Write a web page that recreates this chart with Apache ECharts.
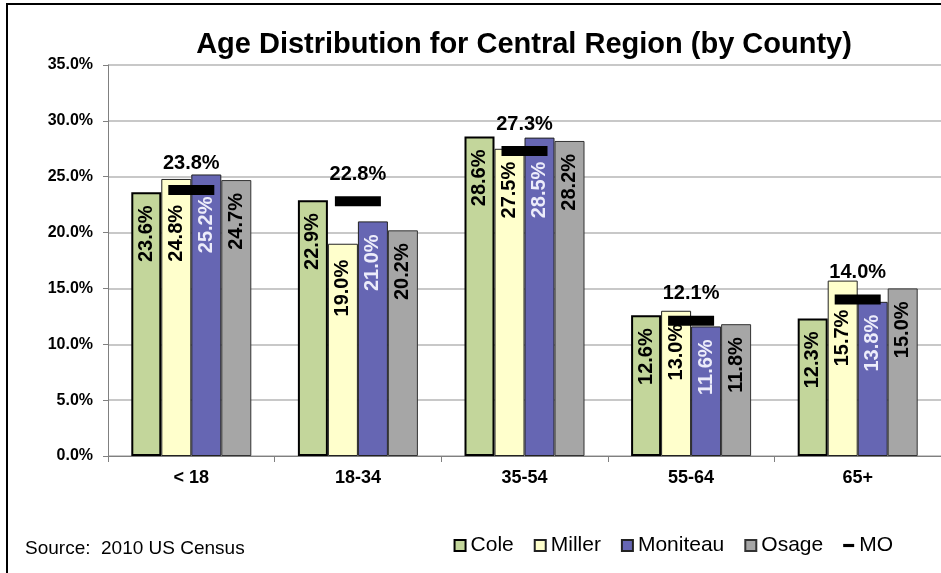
<!DOCTYPE html>
<html lang="en">
<head>
    <meta charset="UTF-8">
    <title>Age Distribution</title>
    <script src="https://cdn.jsdelivr.net/npm/echarts@6.0.0/dist/echarts.min.js"></script>
    <style>
        body { margin: 0; background: #fff; }
    </style>
</head>
<body>
    <div id="main" style="width: 941px;height:573px;"></div>
    <script type="text/javascript">
        // Data (percent of population)
        const ageGroups = ['< 18', '18-34', '35-54', '55-64', '65+'];
        const cole = [23.6, 22.9, 28.6, 12.6, 12.3];
        const miller = [24.8, 19.0, 27.5, 13.0, 15.7];
        const moniteau = [25.2, 21.0, 28.5, 11.6, 13.8];
        const osage = [24.7, 20.2, 28.2, 11.8, 15.0];
        const mo = [23.8, 22.8, 27.3, 12.1, 14.0];

        // a few labels were pushed further down the bar in the original
        const labelDrop = {
            Miller: [26, 16, 13, 13, 29],
            Moniteau: [22, 13, 24, 13, 13]
        };

        const font = "'Liberation Sans', Arial, sans-serif";
        const pct = v => v.toFixed(1) + '%';

        let myChart = echarts.init(document.getElementById('main'));

        // rotated labels sitting just under the bar top
        function barLabel(color) {
            return {
                show: true,
                position: 'insideTop',
                rotate: 90,
                align: 'right',
                verticalAlign: 'middle',
                distance: 13,
                color: color,
                fontFamily: font,
                fontWeight: 'bold',
                fontSize: 20,
                formatter: p => pct(p.value)
            };
        }

        function barSeries(name, data, fill, border, bw, labelColor) {
            let drops = labelDrop[name];
            return {
                name: name,
                type: 'bar',
                data: drops ? data.map((v, i) => ({ value: v, label: { distance: drops[i] } })) : data,
                barWidth: 30,
                barGap: '0%',
                itemStyle: { color: fill, borderColor: border, borderWidth: bw },
                label: barLabel(labelColor),
                z: 2
            };
        }

        let options = {
            animation: false,
            backgroundColor: '#fff',
            title: {
                text: 'Age Distribution for Central Region (by County)',
                left: 524,
                textAlign: 'center',
                top: 30,
                padding: 0,
                textStyle: { fontFamily: font, fontWeight: 'bold', fontSize: 29, color: '#000' }
            },
            graphic: [
                {
                    type: 'rect',
                    shape: { x: 7, y: 4, width: 1000, height: 1000 },
                    style: { fill: 'none', stroke: '#000', lineWidth: 2 },
                    silent: true
                },
                {
                    type: 'text',
                    left: 25,
                    top: 539,
                    style: { text: 'Source:  2010 US Census', font: '19px ' + font, fill: '#000' }
                }
            ],
            legend: {
                right: 48,
                top: 535,
                padding: 0,
                itemWidth: 11,
                itemHeight: 11,
                itemGap: 20,
                textStyle: { fontFamily: font, fontSize: 21, color: '#000' },
                data: [
                    { name: 'Cole', icon: 'rect' },
                    { name: 'Miller', icon: 'rect' },
                    { name: 'Moniteau', icon: 'rect' },
                    { name: 'Osage', icon: 'rect' },
                    { name: 'MO', icon: 'path://M0,0H14V4H0Z' }
                ]
            },
            grid: { left: 108, right: 0, top: 65, bottom: 117 },
            xAxis: {
                type: 'category',
                data: ageGroups,
                axisLine: { lineStyle: { color: '#808080', width: 1 } },
                axisTick: { show: true, length: 6, lineStyle: { color: '#808080' } },
                axisLabel: { margin: 13, color: '#000', fontFamily: font, fontWeight: 'bold', fontSize: 18 }
            },
            yAxis: {
                type: 'value',
                min: 0,
                max: 35,
                interval: 5,
                axisLine: { show: true, lineStyle: { color: '#808080', width: 1 } },
                axisTick: { show: true, length: 5, lineStyle: { color: '#808080' } },
                axisLabel: { margin: 15, color: '#000', fontFamily: font, fontWeight: 'bold', fontSize: 16, formatter: pct },
                splitLine: { lineStyle: { color: '#c8c8c8', width: 2 } }
            },
            series: [
                barSeries('Cole', cole, '#c3d69b', '#000', 2, '#000'),
                barSeries('Miller', miller, '#ffffcc', '#222', 1, '#000'),
                barSeries('Moniteau', moniteau, '#6666b3', '#222', 1, '#ececfa'),
                barSeries('Osage', osage, '#a6a6a6', '#333', 1, '#000'),
                {
                    name: 'MO',
                    type: 'scatter',
                    data: mo,
                    symbol: 'rect',
                    symbolSize: [46, 10],
                    itemStyle: { color: '#000', opacity: 1 },
                    label: {
                        show: true,
                        position: 'top',
                        distance: 12,
                        color: '#000',
                        fontFamily: font,
                        fontWeight: 'bold',
                        fontSize: 20,
                        formatter: p => pct(p.value)
                    },
                    z: 5
                }
            ]
        };

        myChart.setOption(options);
    </script>
</body>
</html>
